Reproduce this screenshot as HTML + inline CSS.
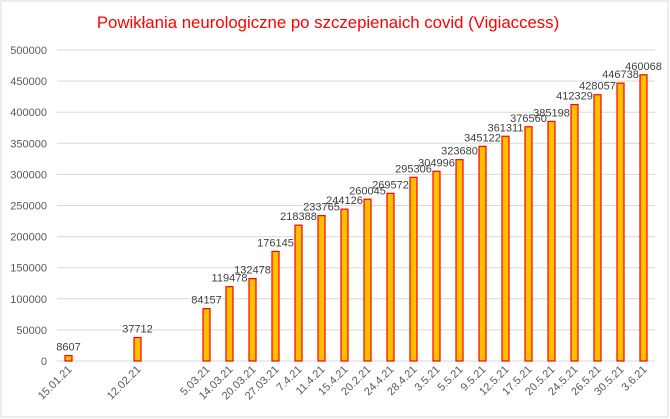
<!DOCTYPE html>
<html><head><meta charset="utf-8"><style>
body{margin:0;background:#fff}
svg{display:block;font-family:"Liberation Sans",sans-serif}
</style></head><body>
<svg id="chart" width="670" height="419">
<rect x="1" y="1" width="667" height="416" fill="#fff" stroke="#d9d9d9"/>
<text x="328" y="28" text-anchor="middle" font-size="16.8" fill="#ff0000">Powikłania neurologiczne po szczepienaich covid (Vigiaccess)</text>
<g id="grid"></g><g id="bars"></g>
</svg>
<script>
const categories=["15.01.21","","","12.02.21","","","5.03.21","14.03.21","20.03.21","27.03.21","7.4.21","11.4.21","15.4.21","20.2.21","24.4.21","28.4.21","3.5.21","5.5.21","9.5.21","12.5.21","17.5.21","20.5.21","24.5.21","26.5.21","30.5.21","3.6.21"];
const values=[8607,null,null,37712,null,null,84157,119478,132478,176145,218388,233765,244126,260045,269572,295306,304996,323680,345122,361311,376560,385198,412329,428057,446738,460068];
const yTicks=[0,50000,100000,150000,200000,250000,300000,350000,400000,450000,500000];
const NS="http://www.w3.org/2000/svg";
const x0=57,x1=655,y0=361,yTop=50,yMax=500000;
const bw=(x1-x0)/categories.length;
const y=v=>y0-(v/yMax)*(y0-yTop);
const xc=i=>x0+bw*(i+0.5);
const grid=document.getElementById('grid'),bars=document.getElementById('bars');
function mk(tag,attrs,parent,text){const e=document.createElementNS(NS,tag);for(const k in attrs)e.setAttribute(k,attrs[k]);if(text!==undefined)e.textContent=text;parent.appendChild(e);return e;}
yTicks.forEach(t=>{
  const l=mk('line',{x1:x0,x2:x1,y1:y(t),y2:y(t),stroke:'#d9d9d9','stroke-width':1},grid);
  
  
  const tx=mk('text',{x:47,y:y(t)+4,'text-anchor':'end','font-size':11,fill:'#595959'},grid,String(t));
  
  
});
categories.forEach((c,i)=>{
  const v=values[i];
  if(v!=null){
    const r=mk('rect',{x:xc(i)-3.5,y:y(v),width:7,height:y0-y(v),fill:'#ffc000',stroke:'#ff0000','stroke-width':1.2},bars);
    
    
    const lb=mk('text',{x:xc(i),y:y(v)-5,'text-anchor':'middle','font-size':11,fill:'#404040'},bars,String(v));
    
    
  }
  if(c){
    const cx=xc(i)+4,cy=y0+9;
    const t=mk('text',{x:cx,y:cy,'text-anchor':'end','font-size':11,fill:'#595959',transform:`rotate(-45 ${cx} ${cy})`},bars,c);
    
    
  }
});
</script>
</body></html>
